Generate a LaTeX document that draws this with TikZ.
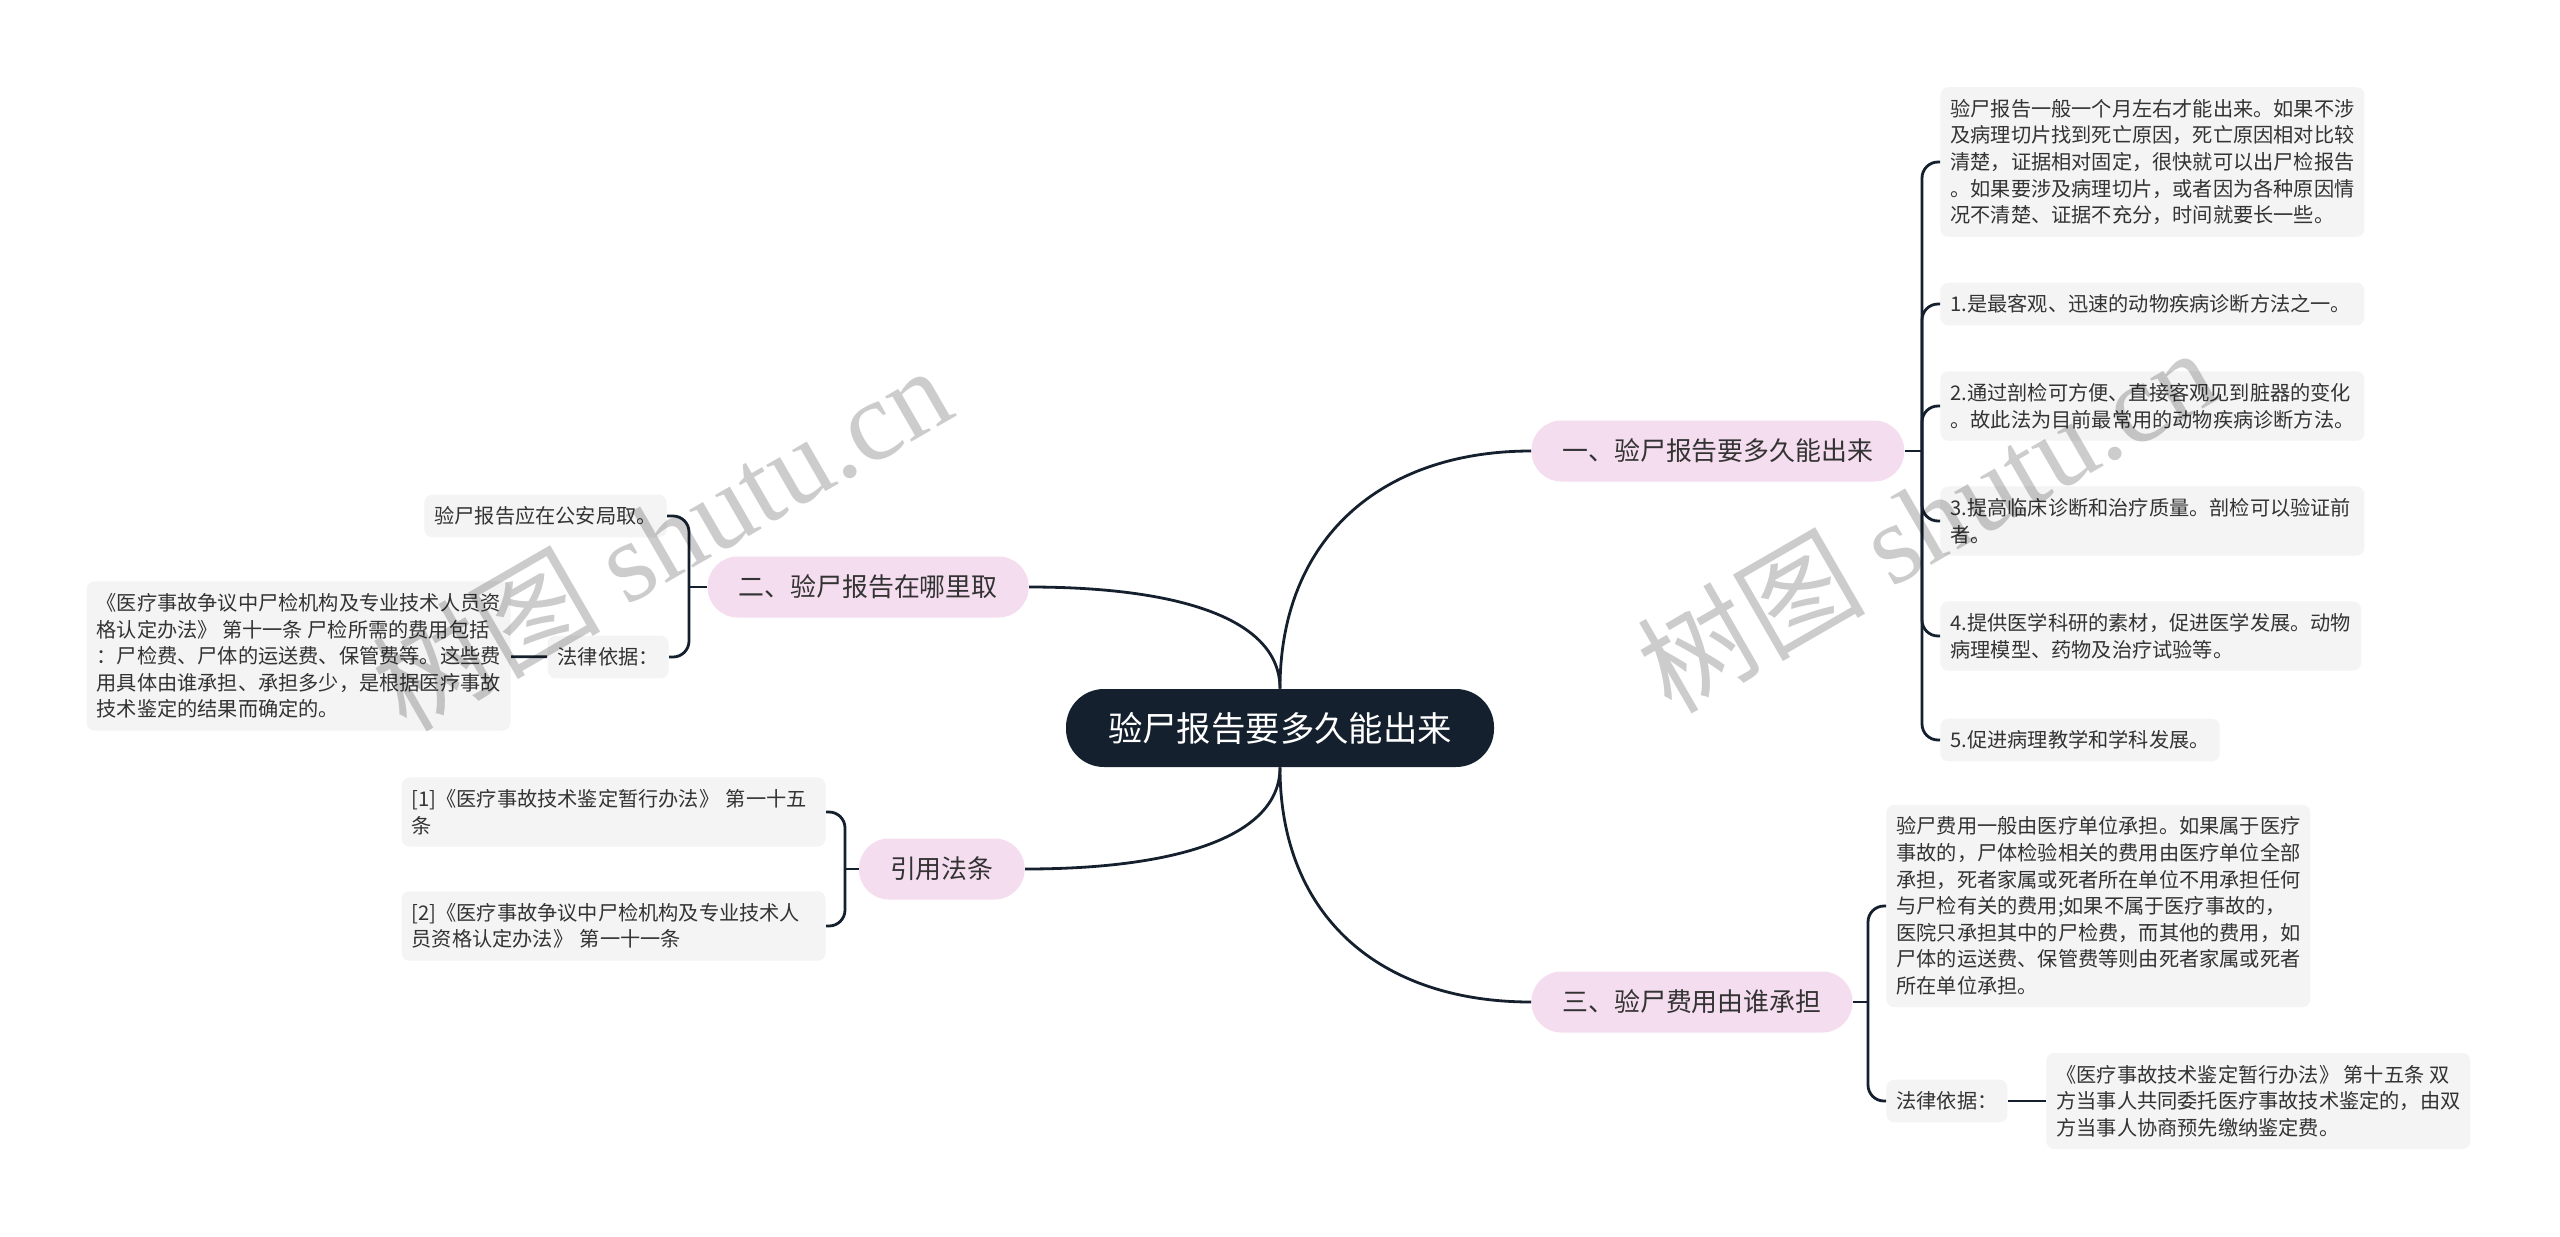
\documentclass[tikz,border=0pt]{standalone}
\usepackage{fontspec}
\setmainfont{Noto Sans CJK SC}
\newfontfamily\markfont{Liberation Serif}
\definecolor{rootc}{HTML}{15202E}
\definecolor{linec}{HTML}{15202E}
\definecolor{topicc}{HTML}{F5DDF0}
\definecolor{leafc}{HTML}{F4F4F4}
\definecolor{textc}{HTML}{333333}
\tikzset{
  link/.style={draw=linec,line width=1.4pt},
  rootbox/.style={fill=rootc,text=white,rounded corners=19pt,minimum width=214pt,minimum height=39pt,inner sep=0pt,font=\fontsize{17.2pt}{20pt}\selectfont},
  topicbox/.style={fill=topicc,text=textc,rounded corners=15pt,minimum height=30.5pt,inner xsep=15.5pt,inner ysep=0pt,font=\fontsize{12.95pt}{15pt}\selectfont},
  leafbox/.style={fill=leafc,text=textc,rounded corners=4pt,align=left,inner xsep=5pt,inner ysep=6pt,font=\fontsize{10.1pt}{13.3pt}\selectfont},
  wmark/.style={text=black,text opacity=0.2,rotate=30,font=\fontsize{57pt}{60pt}\selectfont}
}
\begin{document}
\begin{tikzpicture}[x=0.5pt,y=-0.5pt]
\fill[white] (0,0) rectangle (2560,1237);
\useasboundingbox (0,0) rectangle (2560,1237);

\node[rootbox] (root) at (1280,728) {验尸报告要多久能出来};

\node[topicbox,anchor=west] (time) at (1531,451) {一、验尸报告要多久能出来};
\node[topicbox,anchor=east] (where) at (1029,587) {二、验尸报告在哪里取};
\node[topicbox,anchor=east] (cite) at (1025,869) {引用法条};
\node[topicbox,anchor=west] (fee) at (1531,1002) {三、验尸费用由谁承担};

\node[leafbox,anchor=west] (t1) at (1940,162) {验尸报告一般一个月左右才能出来。如果不涉\\及病理切片找到死亡原因，死亡原因相对比较\\清楚，证据相对固定，很快就可以出尸检报告\\。如果要涉及病理切片，或者因为各种原因情\\况不清楚、证据不充分，时间就要长一些。};
\node[leafbox,anchor=west,text width=202pt] (t2) at (1940,304) {1.是最客观、迅速的动物疾病诊断方法之一。};
\node[leafbox,anchor=west] (t3) at (1940,406) {2.通过剖检可方便、直接客观见到脏器的变化\\。故此法为目前最常用的动物疾病诊断方法。};
\node[leafbox,anchor=west,text width=202pt] (t4) at (1940,521) {3.提高临床诊断和治疗质量。剖检可以验证前\\者。};
\node[leafbox,anchor=west] (t5) at (1940,636) {4.提供医学科研的素材，促进医学发展。动物\\病理模型、药物及治疗试验等。};
\node[leafbox,anchor=west] (t6) at (1940,740) {5.促进病理教学和学科发展。};

\node[leafbox,anchor=east] (w1) at (667,516) {验尸报告应在公安局取。};
\node[leafbox,anchor=east] (w2) at (669,657) {法律依据：};
\node[leafbox,anchor=east] (w3) at (511,656) {《医疗事故争议中尸检机构及专业技术人员资\\格认定办法》 第十一条 尸检所需的费用包括\\：尸检费、尸体的运送费、保管费等。这些费\\用具体由谁承担、承担多少，是根据医疗事故\\技术鉴定的结果而确定的。};

\node[leafbox,anchor=east,text width=202pt] (c1) at (826,812) {[1]《医疗事故技术鉴定暂行办法》 第一十五\\条};
\node[leafbox,anchor=east,text width=202pt] (c2) at (826,926) {[2]《医疗事故争议中尸检机构及专业技术人\\员资格认定办法》 第一十一条};

\node[leafbox,anchor=west] (f1) at (1886,906) {验尸费用一般由医疗单位承担。如果属于医疗\\事故的，尸体检验相关的费用由医疗单位全部\\承担，死者家属或死者所在单位不用承担任何\\与尸检有关的费用;如果不属于医疗事故的，\\医院只承担其中的尸检费，而其他的费用，如\\尸体的运送费、保管费等则由死者家属或死者\\所在单位承担。};
\node[leafbox,anchor=west] (f2) at (1886,1101) {法律依据：};
\node[leafbox,anchor=west] (f3) at (2046,1101) {《医疗事故技术鉴定暂行办法》 第十五条 双\\方当事人共同委托医疗事故技术鉴定的，由双\\方当事人协商预先缴纳鉴定费。};

\coordinate (tj) at (1922,451);
\coordinate (wj) at (689,587);
\coordinate (cj) at (845,869);
\coordinate (fj) at (1868,1002);

\draw[link] (root.north) .. controls +(0,-150) and +(-150,0) .. (time.west);
\draw[link] (root.north) .. controls +(0,-70) and +(150,0) .. (where.east);
\draw[link] (root.south) .. controls +(0,70) and +(150,0) .. (cite.east);
\draw[link] (root.south) .. controls +(0,150) and +(-150,0) .. (fee.west);

\draw[link] (time.east) -- (tj);
\foreach \n in {t1,t2,t3,t4,t5,t6}
  \draw[link,rounded corners=8pt] (tj) |- (\n.west);

\draw[link] (where.west) -- (wj);
\foreach \n in {w1,w2}
  \draw[link,rounded corners=8pt] (wj) |- (\n.east);
\draw[link] (w2) -- (w3);

\draw[link] (cite.west) -- (cj);
\foreach \n in {c1,c2}
  \draw[link,rounded corners=8pt] (cj) |- (\n.east);

\draw[link] (fee.east) -- (fj);
\foreach \n in {f1,f2}
  \draw[link,rounded corners=8pt] (fj) |- (\n.west);
\draw[link] (f2) -- (f3);

\node[wmark] (mark1) at (661,537) {树图 {\markfont shutu.cn}};
\node[wmark] (mark2) at (1926,519) {树图 {\markfont shutu.cn}};
\end{tikzpicture}
\end{document}
